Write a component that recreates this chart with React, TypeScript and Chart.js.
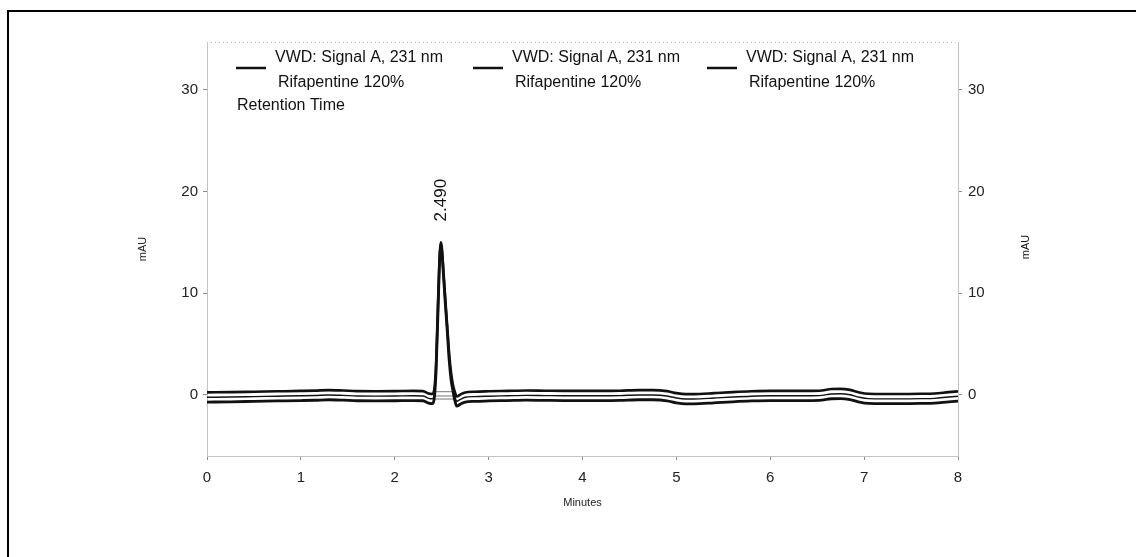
import React, { useEffect, useRef } from 'react';
import { Chart, registerables } from 'chart.js';

Chart.register(...registerables);

// ---------- data ----------
const timeMin = [
  0, 0.25, 0.5, 0.75, 1.0, 1.15, 1.3, 1.45, 1.6, 1.8,
  2.0, 2.2, 2.3, 2.36, 2.40, 2.42, 2.44, 2.46, 2.48, 2.49,
  2.50, 2.52, 2.54, 2.56, 2.58, 2.60, 2.62, 2.64, 2.66, 2.70,
  2.75, 2.85, 3.0, 3.2, 3.4, 3.6, 3.8, 4.0, 4.2, 4.4,
  4.6, 4.75, 4.9, 5.0, 5.1, 5.25, 5.4, 5.6, 5.8, 6.0,
  6.2, 6.4, 6.55, 6.65, 6.75, 6.85, 6.95, 7.05, 7.2, 7.4,
  7.6, 7.75, 7.9, 8.0,
];

const traceA = [
  0.25, 0.28, 0.32, 0.36, 0.40, 0.43, 0.48, 0.44, 0.38, 0.37,
  0.38, 0.40, 0.38, 0.15, 0.10, 0.50, 3.0, 8.8, 14.0, 15.0,
  14.6, 12.0, 9.2, 6.6, 4.0, 2.2, 1.0, 0.30, -0.15, 0.05,
  0.25, 0.32, 0.36, 0.40, 0.44, 0.42, 0.40, 0.40, 0.40, 0.42,
  0.48, 0.48, 0.38, 0.18, 0.08, 0.10, 0.18, 0.28, 0.36, 0.40,
  0.40, 0.40, 0.44, 0.58, 0.60, 0.50, 0.25, 0.12, 0.10, 0.10,
  0.12, 0.15, 0.28, 0.35,
];

const traceB = [
  -0.23, -0.20, -0.16, -0.12, -0.08, -0.05, 0.00, -0.04, -0.10, -0.11,
  -0.10, -0.08, -0.10, -0.33, -0.38, 0.05, 2.6, 8.4, 13.8, 14.85,
  14.4, 11.8, 9.0, 6.4, 3.7, 1.9, 0.8, -0.10, -0.62, -0.43,
  -0.23, -0.16, -0.12, -0.08, -0.04, -0.06, -0.08, -0.08, -0.08, -0.06,
  0.00, 0.00, -0.10, -0.30, -0.40, -0.38, -0.30, -0.20, -0.12, -0.08,
  -0.08, -0.08, -0.04, 0.10, 0.12, 0.02, -0.23, -0.36, -0.38, -0.38,
  -0.36, -0.33, -0.20, -0.13,
];

const traceC = [
  -0.70, -0.67, -0.63, -0.59, -0.55, -0.52, -0.47, -0.51, -0.57, -0.58,
  -0.57, -0.55, -0.57, -0.80, -0.85, -0.40, 2.3, 8.0, 13.6, 14.7,
  14.3, 11.6, 8.8, 6.2, 3.4, 1.5, 0.4, -0.55, -1.10, -0.90,
  -0.70, -0.63, -0.59, -0.55, -0.51, -0.53, -0.55, -0.55, -0.55, -0.53,
  -0.47, -0.47, -0.57, -0.77, -0.87, -0.85, -0.77, -0.67, -0.59, -0.55,
  -0.55, -0.55, -0.51, -0.37, -0.35, -0.45, -0.70, -0.83, -0.85, -0.85,
  -0.83, -0.80, -0.67, -0.60,
];

const xTicks = [0, 1, 2, 3, 4, 5, 6, 7, 8];
const yTicks = [0, 10, 20, 30];
const yMin = -6;
const yMax = 34.7;

const seriesTitles = ['VWD: Signal A, 231 nm', 'VWD: Signal A, 231 nm', 'VWD: Signal A, 231 nm'];
const seriesSubtitles = ['Rifapentine 120%', 'Rifapentine 120%', 'Rifapentine 120%'];
const retentionLabel = 'Retention Time';
const xTitle = 'Minutes';
const yTitle = 'mAU';

const peakTime = 2.49;
const peakHeight = 15.0;
const peakLabel = '2.490';

const integrationStart = 2.42;
const integrationEnd = 2.64;
const integrationLevels = [0.32, -0.1, -0.4];

// ---------- styling ----------
const FONT = '"Liberation Sans", Arial, sans-serif';
const INK = '#111';

const decorPlugin = {
  id: 'decor',
  beforeDraw(chart: any) {
    const { ctx, chartArea } = chart;
    ctx.save();
    ctx.fillStyle = '#fff';
    ctx.fillRect(0, 0, chart.width, chart.height);
    // page frame
    ctx.fillStyle = '#000';
    ctx.fillRect(7, 10, chart.width - 7, 2);
    ctx.fillRect(7, 10, 2, chart.height - 10);
    // dotted top of plot box
    ctx.strokeStyle = '#bdbdbd';
    ctx.lineWidth = 1;
    ctx.setLineDash([1, 3]);
    ctx.beginPath();
    ctx.moveTo(chartArea.left, chartArea.top + 0.5);
    ctx.lineTo(chartArea.right, chartArea.top + 0.5);
    ctx.stroke();
    ctx.restore();
  },
  afterDraw(chart: any) {
    const { ctx } = chart;
    const xs = chart.scales.x;
    const ys = chart.scales.y;
    ctx.save();
    ctx.fillStyle = INK;
    ctx.strokeStyle = INK;

    // legend
    const lineStarts = [236, 473, 707];
    ctx.font = `16px ${FONT}`;
    ctx.textBaseline = 'middle';
    ctx.textAlign = 'left';
    seriesTitles.forEach((t, i) => {
      const lx = lineStarts[i];
      ctx.lineWidth = 2.5;
      ctx.beginPath();
      ctx.moveTo(lx, 68);
      ctx.lineTo(lx + 30, 68);
      ctx.stroke();
      ctx.fillText(t, lx + 39, 58);
      ctx.fillText(seriesSubtitles[i], lx + 42, 83);
    });
    ctx.fillText(retentionLabel, 237, 106);

    // peak label
    const px = xs.getPixelForValue(peakTime);
    const py = ys.getPixelForValue(peakHeight);
    ctx.save();
    ctx.translate(px + 1, py - 21);
    ctx.rotate(-Math.PI / 2);
    ctx.font = `17px ${FONT}`;
    ctx.textAlign = 'left';
    ctx.textBaseline = 'middle';
    ctx.fillText(peakLabel, 0, 0);
    ctx.restore();

    // right axis title
    ctx.save();
    ctx.translate(1026, 247);
    ctx.rotate(-Math.PI / 2);
    ctx.font = `11px ${FONT}`;
    ctx.textAlign = 'center';
    ctx.textBaseline = 'middle';
    ctx.fillText(yTitle, 0, 0);
    ctx.restore();

    ctx.restore();
  },
};

export default function App() {
  const ref = useRef<HTMLCanvasElement | null>(null);

  useEffect(() => {
    if (!ref.current) return;
    const toPts = (arr: number[]) => timeMin.map((t, i) => ({ x: t, y: arr[i] }));
    const traceStyle = (w: number) => ({
      borderColor: INK,
      borderWidth: w,
      pointRadius: 0,
      cubicInterpolationMode: 'monotone' as const,
      fill: false,
    });
    const integrationSets = integrationLevels.map((lv, i) => ({
      label: 'baseline ' + (i + 1),
      data: [
        { x: integrationStart, y: lv },
        { x: integrationEnd, y: lv },
      ],
      borderColor: '#777',
      borderWidth: 1,
      pointRadius: 0,
      fill: false,
    }));

    const tickFont = { family: FONT, size: 15 };
    const axisBorder = { display: true, color: '#c4c4c4', dash: [1, 3], width: 1 };
    const grid = { drawOnChartArea: false, drawTicks: true, tickLength: 4, color: '#8a8a8a' };

    const chart = new Chart(ref.current, {
      type: 'line',
      data: {
        datasets: [
          { label: seriesTitles[0], data: toPts(traceA), ...traceStyle(2.6) },
          { label: seriesTitles[1], data: toPts(traceB), ...traceStyle(1.4) },
          { label: seriesTitles[2], data: toPts(traceC), ...traceStyle(2.8) },
          ...integrationSets,
        ],
      },
      options: {
        responsive: false,
        animation: false,
        devicePixelRatio: 1,
        layout: { padding: { top: 42, left: 0, right: 0, bottom: 0 } },
        plugins: { legend: { display: false }, tooltip: { enabled: false } },
        scales: {
          x: {
            type: 'linear',
            position: 'bottom',
            min: 0,
            max: 8,
            afterBuildTicks: (s: any) => { s.ticks = xTicks.map((v) => ({ value: v })); },
            afterFit: (s: any) => { s.height = 101; },
            ticks: { font: tickFont, color: '#222', padding: 9, maxRotation: 0 },
            grid,
            border: axisBorder,
            title: {
              display: true,
              text: xTitle,
              font: { family: FONT, size: 11 },
              color: '#222',
              padding: { top: 0, bottom: 47 },
            },
          },
          y: {
            type: 'linear',
            position: 'left',
            min: yMin,
            max: yMax,
            afterBuildTicks: (s: any) => { s.ticks = yTicks.map((v) => ({ value: v })); },
            afterFit: (s: any) => { s.width = 207; },
            ticks: { font: tickFont, color: '#222', padding: 5 },
            grid,
            border: axisBorder,
            title: {
              display: true,
              text: yTitle,
              font: { family: FONT, size: 11 },
              color: '#222',
              padding: { top: 136, bottom: 0 },
            },
          },
          y2: {
            type: 'linear',
            position: 'right',
            min: yMin,
            max: yMax,
            afterBuildTicks: (s: any) => { s.ticks = yTicks.map((v) => ({ value: v })); },
            afterFit: (s: any) => { s.width = 178; },
            ticks: { font: tickFont, color: '#222', padding: 6 },
            grid,
            border: axisBorder,
          },
        },
      },
      plugins: [decorPlugin],
    } as any);

    return () => chart.destroy();
  }, []);

  return (
    <div style={{ position: 'absolute', left: 0, top: 0, width: 1136, height: 557, background: '#fff' }}>
      <canvas ref={ref} width={1136} height={557} style={{ display: 'block', width: 1136, height: 557 }} />
    </div>
  );
}
